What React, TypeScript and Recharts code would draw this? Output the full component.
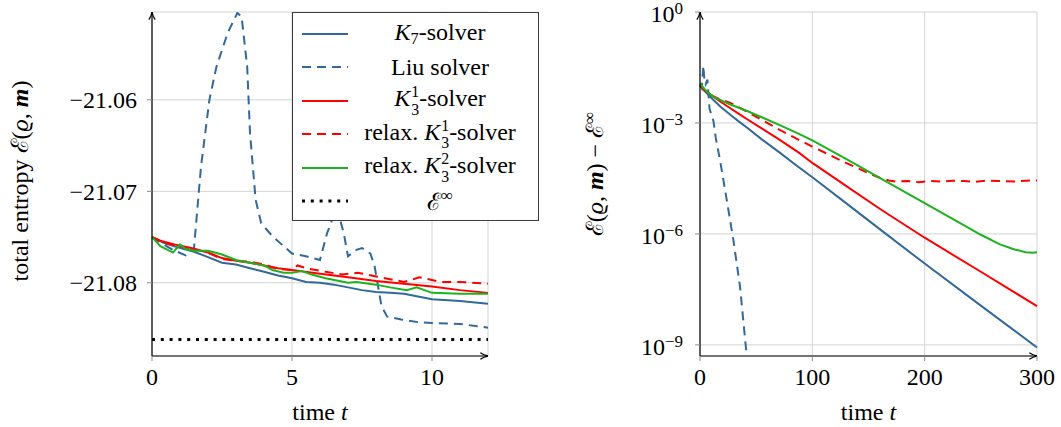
import { LineChart, Line, XAxis, YAxis, CartesianGrid, ReferenceLine, Legend, Label } from 'recharts';

const FONT = '"Liberation Serif", "DejaVu Serif", serif';
const BLUE = '#31699b';
const RED = '#ff0000';
const GREEN = '#1db31d';
const GRID = '#d3d3d3';

// ---- total entropy over time (left panel) ----
const k7Time = [0, 0.4, 0.8, 1.5, 2, 2.5, 3, 3.5, 4, 4.5, 5, 5.5, 6, 6.5, 7, 7.5, 8, 8.5, 9, 9.5, 10, 11, 12];
const k7Entropy = [-21.075, -21.0756, -21.076, -21.0766, -21.0772, -21.0778, -21.078, -21.0784, -21.0788, -21.0792, -21.0795, -21.0799, -21.08, -21.0802, -21.0805, -21.0808, -21.081, -21.0811, -21.0812, -21.0815, -21.0818, -21.082, -21.0823];

const liuTime = [0, 0.3, 0.75, 1.2, 1.5, 1.75, 2.05, 2.3, 2.7, 3.05, 3.2, 3.4, 3.5, 3.7, 3.9, 4.3, 5.0, 5.5, 6.0, 6.25, 6.6, 6.85, 7.0, 7.3, 7.5, 7.8, 7.95, 8.2, 8.4, 8.9, 9.5, 10, 11, 12];
const liuEntropy = [-21.075, -21.0756, -21.0764, -21.077, -21.0762, -21.0673, -21.06, -21.0564, -21.0527, -21.0505, -21.0509, -21.0564, -21.0636, -21.0709, -21.0735, -21.0749, -21.0768, -21.0771, -21.0775, -21.0746, -21.0718, -21.0746, -21.0771, -21.0764, -21.0762, -21.0768, -21.0782, -21.0826, -21.0837, -21.084, -21.0843, -21.0844, -21.0845, -21.0849];

const k31Time = [0, 0.3, 0.8, 1.4, 2, 2.5, 3, 3.5, 4, 4.5, 5, 6, 7, 8, 9, 10, 11, 12];
const k31Entropy = [-21.075, -21.0754, -21.0758, -21.0762, -21.0767, -21.0773, -21.0776, -21.0778, -21.0781, -21.0784, -21.0786, -21.079, -21.0794, -21.0798, -21.0801, -21.0804, -21.0808, -21.0811];

const rk31Time = [0, 0.5, 1.0, 1.5, 2.0, 2.5, 3.0, 3.5, 4.0, 4.5, 5.0, 5.2, 5.5, 6.2, 6.8, 7.35, 8.0, 8.5, 9.0, 9.55, 10.3, 11, 12];
const rk31Entropy = [-21.075, -21.0757, -21.076, -21.0763, -21.0767, -21.0774, -21.0776, -21.0777, -21.078, -21.0785, -21.0786, -21.0781, -21.0784, -21.0788, -21.0791, -21.0789, -21.0793, -21.0796, -21.0799, -21.0794, -21.0799, -21.0799, -21.0801];

const rk32Time = [0, 0.3, 0.75, 1.0, 1.2, 1.5, 2.0, 2.5, 3.0, 3.5, 4.0, 4.3, 4.7, 5.0, 5.35, 5.7, 6.2, 7.0, 7.3, 8.0, 8.5, 9.1, 9.45, 10, 11, 12];
const rk32Entropy = [-21.075, -21.076, -21.0767, -21.0758, -21.0763, -21.0765, -21.0765, -21.0769, -21.0775, -21.0778, -21.0781, -21.0786, -21.0789, -21.0789, -21.0787, -21.0791, -21.0795, -21.08, -21.0799, -21.0802, -21.0805, -21.0808, -21.0805, -21.0811, -21.0812, -21.0812];

const ENTROPY_INF = -21.0862;
const entropyTicksX = [0, 5, 10];
const entropyTicksY = [-21.08, -21.07, -21.06];

// ---- entropy gap E - E_inf over a long run (right panel) ----
const k7GapTime = [0, 4, 8, 12, 18, 27, 35, 42, 55, 71, 85, 100, 130, 160, 200, 250, 300];
const k7Gap = [1.05e-2, 7.4e-3, 5.5e-3, 4.2e-3, 2.8e-3, 1.66e-3, 1.07e-3, 7.4e-4, 3.6e-4, 1.58e-4, 7.4e-5, 3.4e-5, 6.8e-6, 1.35e-6, 1.58e-7, 1.15e-8, 8.5e-10];

const liuGapTime = [0, 1.5, 3, 4, 5, 6.6, 8.5, 12, 14, 17.8, 23.8, 29.7, 35.6, 41.6, 44];
const liuGap = [1.1e-2, 8.9e-3, 3.55e-2, 1.26e-2, 1.1e-2, 1.48e-2, 2.4e-3, 1.12e-3, 4.0e-4, 1.0e-4, 8.3e-6, 6.9e-7, 3.8e-8, 5.0e-10, 1.6e-10];

const k31GapTime = [0, 4, 8, 12, 18, 27, 35, 42, 56, 71, 88, 100, 130, 160, 200, 250, 300];
const k31Gap = [1.05e-2, 7.9e-3, 6.3e-3, 5.1e-3, 3.8e-3, 2.5e-3, 1.74e-3, 1.26e-3, 6.8e-4, 3.5e-4, 1.58e-4, 8.3e-5, 2.0e-5, 4.8e-6, 7.9e-7, 9.5e-8, 1.12e-8];

const rk31GapTime = [0, 4, 8, 12, 18, 27, 35, 42, 56, 71, 88, 100, 130, 150, 160, 168, 175, 185, 195, 205, 215, 225, 235, 245, 255, 265, 280, 290, 300];
const rk31Gap = [1.05e-2, 7.6e-3, 6.3e-3, 5.2e-3, 4.4e-3, 3.5e-3, 2.6e-3, 2.0e-3, 1.17e-3, 6.5e-4, 3.5e-4, 2.3e-4, 8.3e-5, 4.4e-5, 3.3e-5, 2.8e-5, 2.6e-5, 2.7e-5, 2.5e-5, 2.7e-5, 2.6e-5, 2.75e-5, 2.7e-5, 2.55e-5, 2.75e-5, 2.7e-5, 2.6e-5, 2.75e-5, 2.8e-5];

const rk32GapTime = [0, 4, 8, 12, 18, 27, 42, 56, 71, 88, 100, 130, 160, 200, 230, 250, 267, 280, 290, 296, 300];
const rk32Gap = [1.17e-2, 8.3e-3, 6.3e-3, 5.1e-3, 4.2e-3, 3.16e-3, 2.1e-3, 1.38e-3, 8.7e-4, 5.1e-4, 3.4e-4, 1.07e-4, 3.3e-5, 6.8e-6, 2.1e-6, 9.5e-7, 5.2e-7, 3.8e-7, 3.2e-7, 3.1e-7, 3.2e-7];

const gapTicksX = [0, 100, 200, 300];
const gapTicksY = [1e-9, 1e-6, 1e-3, 1];

const zip = (ts: number[], vs: number[]) => ts.map((t, i) => ({ t, v: vs[i] }));

const tickStyle = { fill: '#000', fontSize: 24, fontFamily: FONT };
const tickLine = { stroke: '#8a8a8a' };
const axisLine = { stroke: '#000', strokeWidth: 1.2, markerEnd: 'url(#axisArrow)' };
const yAxisLine = { stroke: '#000', strokeWidth: 1.2, markerStart: 'url(#axisArrow)' };

const fmtEntropy = (v: number) => `\u2212${Math.abs(v).toFixed(2)}`;

function ArrowDefs() {
  return (
    <svg width={0} height={0} style={{ position: 'absolute' }}>
      <defs>
        <marker id="axisArrow" viewBox="0 0 10 10" refX={9.5} refY={5} markerWidth={9} markerHeight={9}
          markerUnits="userSpaceOnUse" orient="auto-start-reverse">
          <path d="M1,1.5 Q5,4.3 9.5,5 Q5,5.7 1,8.5" fill="none" stroke="#000" strokeWidth={1.4} />
        </marker>
      </defs>
    </svg>
  );
}

// 10^k tick labels for the log axis
function PowerTick({ x, y, payload }: any) {
  const exp = Math.round(Math.log10(payload.value));
  return (
    <text x={x} y={y} dy="0.42em" textAnchor="end" fill="#000" fontSize={24} fontFamily={FONT}>
      10<tspan dy={-8} fontSize={17}>{exp < 0 ? `\u2212${-exp}` : exp}</tspan>
    </text>
  );
}

function TimeLabel({ viewBox }: any) {
  const cx = viewBox.x + viewBox.width / 2;
  return (
    <text x={cx} y={viewBox.y + 64} textAnchor="middle" fill="#000" fontSize={24} fontFamily={FONT}>
      time <tspan fontStyle="italic">t</tspan>
    </text>
  );
}

function EntropyLabel({ viewBox }: any) {
  const cx = 28;
  const cy = viewBox.y + viewBox.height / 2 - 3;
  return (
    <text x={cx} y={cy} transform={`rotate(-90 ${cx} ${cy})`} textAnchor="middle" fill="#000" fontSize={24} fontFamily={FONT}>
      total entropy {'\u2130'}(<tspan fontStyle="italic">{'\u03f1'}</tspan>, <tspan fontStyle="italic" fontWeight="bold">m</tspan>)
    </text>
  );
}

function GapLabel({ viewBox }: any) {
  const cx = 43;
  const cy = viewBox.y + viewBox.height / 2 - 10;
  return (
    <text x={cx} y={cy} transform={`rotate(-90 ${cx} ${cy})`} textAnchor="middle" fill="#000" fontSize={24} fontFamily={FONT}>
      {'\u2130'}(<tspan fontStyle="italic">{'\u03f1'}</tspan>, <tspan fontStyle="italic" fontWeight="bold">m</tspan>) {'\u2212'} {'\u2130'}
      <tspan dy="-0.5em" fontSize={17}>{'\u221e'}</tspan>
    </text>
  );
}

const K = <span style={{ fontStyle: 'italic' }}>K</span>;

// stacked super- and subscript, as in K_3^1
function SupSub({ sup, sub }: { sup: string; sub: string }) {
  return (
    <span style={{ display: 'inline-flex', flexDirection: 'column', fontSize: '0.66em', lineHeight: 1.1, verticalAlign: '0.55em', marginLeft: 1 }}>
      <span>{sup}</span>
      <span>{sub}</span>
    </span>
  );
}

const legendRows = [
  { color: BLUE, dash: undefined, width: 2, label: <>{K}<span style={{ fontSize: '0.68em', verticalAlign: '-0.25em' }}>7</span>-solver</> },
  { color: BLUE, dash: '9 6', width: 2, label: <>Liu solver</> },
  { color: RED, dash: undefined, width: 2, label: <>{K}<SupSub sup="1" sub="3" />-solver</> },
  { color: RED, dash: '9 6', width: 2, label: <>relax. {K}<SupSub sup="1" sub="3" />-solver</> },
  { color: GREEN, dash: undefined, width: 2, label: <>relax. {K}<SupSub sup="2" sub="3" />-solver</> },
  { color: '#000', dash: '3 5.8', width: 3, label: <>{'\u2130'}<span style={{ fontSize: '0.7em', verticalAlign: '0.55em' }}>{'\u221e'}</span></> },
];

function LegendBox() {
  return (
    <div style={{
      boxSizing: 'border-box', width: 247, height: 209, border: '1.5px solid #3c3c3c', background: '#fff',
      paddingTop: 4, fontFamily: FONT, fontSize: 24, color: '#000', lineHeight: 1,
    }}>
      {legendRows.map((r, i) => (
        <div key={i} style={{ display: 'flex', alignItems: 'center', height: 33.5 }}>
          <svg width={46} height={10} style={{ marginLeft: 9, flex: 'none' }}>
            <line x1={0} y1={5} x2={46} y2={5} stroke={r.color} strokeWidth={r.width} strokeDasharray={r.dash} />
          </svg>
          <div style={{ width: 184, textAlign: 'center', whiteSpace: 'nowrap' }}>{r.label}</div>
        </div>
      ))}
    </div>
  );
}

function EntropyChart() {
  return (
    <LineChart width={560} height={427} margin={{ top: 12, right: 72, bottom: 0, left: 0 }}>
      <CartesianGrid stroke={GRID} strokeWidth={1} />
      <XAxis type="number" dataKey="t" domain={[0, 12]} ticks={entropyTicksX} height={71}
        tickSize={5} tickMargin={7} tick={tickStyle} tickLine={tickLine} axisLine={axisLine}>
        <Label content={TimeLabel} />
      </XAxis>
      <YAxis type="number" domain={[-21.088, -21.0504]} ticks={entropyTicksY} width={152} allowDataOverflow
        tickSize={5} tickMargin={10} tick={tickStyle} tickLine={tickLine} axisLine={yAxisLine} tickFormatter={fmtEntropy}>
        <Label content={EntropyLabel} />
      </YAxis>
      <Line data={zip(k7Time, k7Entropy)} dataKey="v" stroke={BLUE} strokeWidth={2} dot={false} activeDot={false} isAnimationActive={false} />
      <Line data={zip(liuTime, liuEntropy)} dataKey="v" stroke={BLUE} strokeWidth={2} strokeDasharray="9 6" dot={false} activeDot={false} isAnimationActive={false} />
      <Line data={zip(k31Time, k31Entropy)} dataKey="v" stroke={RED} strokeWidth={2} dot={false} activeDot={false} isAnimationActive={false} />
      <Line data={zip(rk31Time, rk31Entropy)} dataKey="v" stroke={RED} strokeWidth={2} strokeDasharray="9 6" dot={false} activeDot={false} isAnimationActive={false} />
      <Line data={zip(rk32Time, rk32Entropy)} dataKey="v" stroke={GREEN} strokeWidth={2} dot={false} activeDot={false} isAnimationActive={false} />
      <ReferenceLine y={ENTROPY_INF} stroke="#000" strokeWidth={3} strokeDasharray="3 5.8" />
      <Legend content={LegendBox} layout="horizontal" verticalAlign="middle" align="center"
        wrapperStyle={{ left: 292, top: 12, width: 247, height: 209 }} />
    </LineChart>
  );
}

function DecayChart() {
  return (
    <LineChart width={501} height={427} margin={{ top: 12, right: 24, bottom: 0, left: 0 }}>
      <CartesianGrid stroke={GRID} strokeWidth={1} />
      <XAxis type="number" dataKey="t" domain={[0, 300]} ticks={gapTicksX} height={71}
        tickSize={5} tickMargin={7} tick={tickStyle} tickLine={tickLine} axisLine={axisLine}>
        <Label content={TimeLabel} />
      </XAxis>
      <YAxis type="number" scale="log" domain={[Math.pow(10, -9.3), 1]} ticks={gapTicksY} width={140} allowDataOverflow
        tickSize={5} tickMargin={12} tick={<PowerTick />} tickLine={tickLine} axisLine={yAxisLine}>
        <Label content={GapLabel} />
      </YAxis>
      <Line data={zip(k7GapTime, k7Gap)} dataKey="v" stroke={BLUE} strokeWidth={2} dot={false} activeDot={false} isAnimationActive={false} />
      <Line data={zip(liuGapTime, liuGap)} dataKey="v" stroke={BLUE} strokeWidth={2} strokeDasharray="9 6" dot={false} activeDot={false} isAnimationActive={false} />
      <Line data={zip(k31GapTime, k31Gap)} dataKey="v" stroke={RED} strokeWidth={2} dot={false} activeDot={false} isAnimationActive={false} />
      <Line data={zip(rk31GapTime, rk31Gap)} dataKey="v" stroke={RED} strokeWidth={2} strokeDasharray="9 6" dot={false} activeDot={false} isAnimationActive={false} />
      <Line data={zip(rk32GapTime, rk32Gap)} dataKey="v" stroke={GREEN} strokeWidth={2} dot={false} activeDot={false} isAnimationActive={false} />
    </LineChart>
  );
}

export default function App() {
  return (
    <div style={{ position: 'absolute', left: 0, top: 0, width: 1061, height: 427, background: '#fff', overflow: 'hidden' }}>
      <ArrowDefs />
      <div style={{ position: 'absolute', left: 0, top: 0 }}>
        <EntropyChart />
      </div>
      <div style={{ position: 'absolute', left: 560, top: 0 }}>
        <DecayChart />
      </div>
    </div>
  );
}
